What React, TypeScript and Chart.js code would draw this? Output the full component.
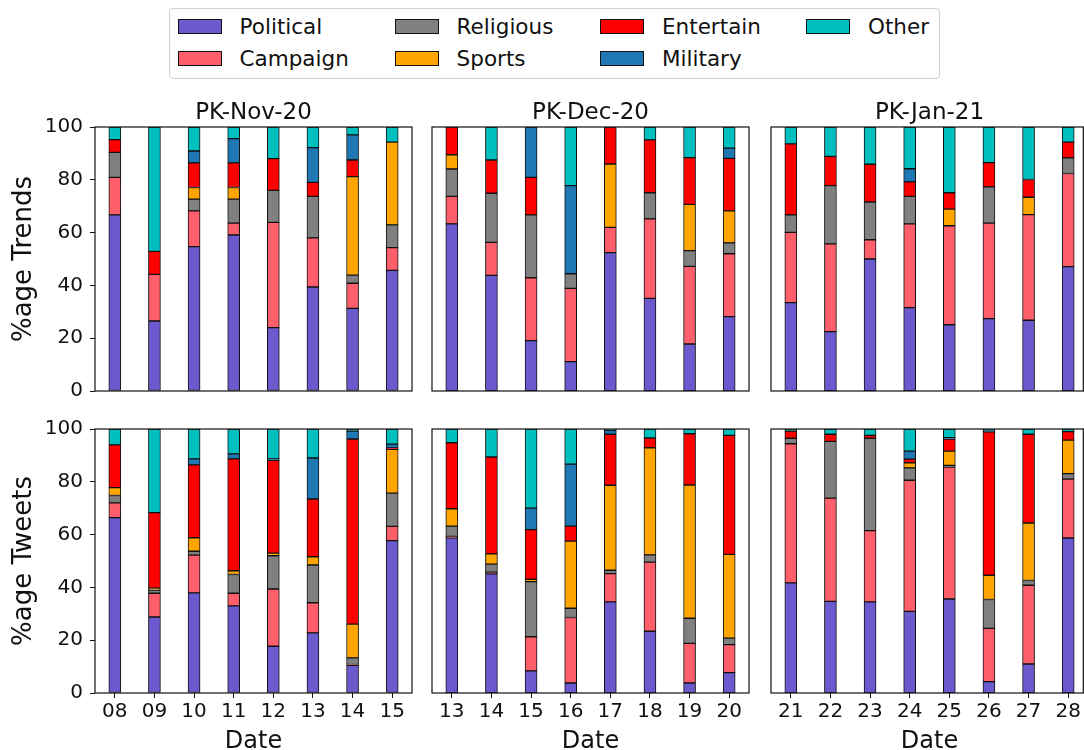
import React, { useEffect, useRef } from 'react';
import { Chart, registerables } from 'chart.js';

Chart.register(...registerables);
Chart.defaults.font.family = "'DejaVu Sans', sans-serif";

// ---------------- DATA ----------------
const categories = ['Political', 'Campaign', 'Religious', 'Sports', 'Entertain', 'Military', 'Other'];
const seriesColors = ['#6A5ACD', '#FF5E6B', '#808080', '#FFA500', '#FF0000', '#1F77B4', '#00BFBF'];

const novDates = ['08', '09', '10', '11', '12', '13', '14', '15'];
const decDates = ['13', '14', '15', '16', '17', '18', '19', '20'];
const janDates = ['21', '22', '23', '24', '25', '26', '27', '28'];

const yTicks = [0, 20, 40, 60, 80, 100];
const panelTitles = ['PK-Nov-20', 'PK-Dec-20', 'PK-Jan-21'];
const rowLabels = ['%age Trends', '%age Tweets'];
const xLabel = 'Date';

// rows follow `categories` order: Political, Campaign, Religious, Sports, Entertain, Military, Other
const novTrends = [
  [66.7, 26.5, 54.7, 59.1, 24.0, 39.4, 31.3, 45.7],
  [14.2, 17.7, 13.5, 4.5, 39.9, 18.6, 9.5, 8.6],
  [9.5, 0, 4.5, 9.1, 12.1, 15.7, 3.1, 8.6],
  [0, 0, 4.4, 4.4, 0, 0, 37.3, 31.4],
  [4.8, 8.7, 9.3, 9.3, 12.0, 5.3, 6.3, 0],
  [0, 0, 4.5, 9.2, 0, 13.2, 9.5, 0],
  [4.8, 47.1, 9.1, 4.4, 12.0, 7.8, 3.0, 5.7],
];
const decTrends = [
  [63.3, 43.8, 19.1, 11.1, 52.4, 35.1, 17.8, 28.2],
  [10.4, 12.5, 23.8, 27.8, 9.6, 30.1, 29.4, 23.8],
  [10.4, 18.6, 23.8, 5.5, 0, 9.9, 6.0, 4.1],
  [5.4, 0, 0, 0, 24.0, 0, 17.5, 12.1],
  [10.5, 12.6, 14.2, 0, 14.0, 20.0, 17.7, 19.9],
  [0, 0, 19.1, 33.4, 0, 0, 0, 3.9],
  [0, 12.5, 0, 22.2, 0, 4.9, 11.6, 8.0],
];
const janTrends = [
  [33.5, 22.5, 50.0, 31.6, 25.1, 27.4, 26.8, 47.1],
  [26.6, 33.2, 7.3, 31.7, 37.5, 36.2, 40.0, 35.3],
  [6.6, 22.1, 14.3, 10.4, 0, 13.7, 0, 5.9],
  [0, 0, 0, 0, 6.3, 0, 6.6, 0],
  [26.9, 11.1, 14.3, 5.5, 6.2, 9.2, 6.7, 6.0],
  [0, 0, 0, 5.0, 0, 0, 0, 0],
  [6.4, 11.1, 14.1, 15.8, 24.9, 13.5, 19.9, 5.7],
];
const novTweets = [
  [66.4, 28.8, 37.9, 33.0, 17.7, 22.8, 10.5, 57.7],
  [5.6, 9.0, 14.3, 4.8, 21.7, 11.4, 0.3, 5.4],
  [2.8, 1.2, 1.5, 7.1, 12.6, 14.3, 2.5, 12.6],
  [3.0, 0.7, 5.1, 1.4, 1.0, 3.1, 12.8, 16.6],
  [16.2, 28.6, 27.6, 42.4, 35.1, 21.9, 70.1, 0.5],
  [0, 0, 2.3, 1.9, 0.6, 15.5, 3.0, 1.5],
  [6.0, 31.7, 11.3, 9.4, 11.3, 11.0, 0.8, 5.7],
];
const decTweets = [
  [58.8, 45.1, 8.4, 3.8, 34.5, 23.4, 3.8, 7.7],
  [0.5, 0.7, 12.9, 24.8, 10.7, 26.2, 15.0, 10.6],
  [3.9, 3.0, 20.9, 3.5, 1.3, 2.7, 9.5, 2.5],
  [6.6, 3.9, 0.9, 25.4, 32.2, 40.6, 50.5, 31.7],
  [25.0, 36.7, 18.8, 5.7, 19.3, 3.7, 19.4, 45.1],
  [0, 0, 8.1, 23.5, 1.5, 0, 0, 0],
  [5.2, 10.6, 30.0, 13.3, 0.5, 3.4, 1.8, 2.4],
];
const janTweets = [
  [41.7, 34.7, 34.5, 30.9, 35.6, 4.3, 11.0, 58.7],
  [52.7, 39.1, 27.0, 49.7, 50.0, 20.2, 29.8, 22.3],
  [2.1, 21.5, 35.0, 4.7, 0.6, 10.9, 1.8, 2.1],
  [0, 0, 0, 1.9, 5.4, 9.2, 21.8, 12.7],
  [2.7, 2.7, 1.1, 1.4, 4.6, 54.3, 33.6, 3.2],
  [0, 0, 0, 3.0, 0.5, 0.3, 0, 0],
  [0.8, 2.0, 2.4, 8.4, 3.3, 0.8, 2.0, 1.0],
];

// ---------------- LAYOUT ----------------
const VIEW_W = 1084;
const VIEW_H = 750;
const COL_LEFT = [95, 432, 771];
const PLOT_W = 317;
const ROW_TOP = [127, 429];
const PLOT_H = 264;
const PAD = 20;
const AXIS_W = 70;
const AXIS_H = 45;

type PanelProps = { values: number[][]; dates: string[]; col: number; row: number };

function Panel({ values, dates, col, row }: PanelProps) {
  const ref = useRef<HTMLCanvasElement | null>(null);
  const showY = col === 0;
  const showX = row === 1;
  const padL = showY ? AXIS_W : PAD;
  const padB = showX ? AXIS_H : PAD;
  const cw = padL + PLOT_W + PAD;
  const ch = PAD + PLOT_H + padB;
  const cLeft = COL_LEFT[col] - padL;
  const cTop = ROW_TOP[row] - PAD;

  useEffect(() => {
    if (!ref.current) return;
    const edgeX = cLeft + padL + PLOT_W > VIEW_W ? VIEW_W - 0.7 - cLeft : null;
    const framePlugin = {
      id: 'frame' + col + row,
      afterDatasetsDraw(chart: any) {
        const { ctx, chartArea } = chart;
        const { left, top, right, bottom } = chartArea;
        ctx.save();
        ctx.strokeStyle = '#111';
        ctx.lineWidth = 1.2;
        ctx.strokeRect(left, top, right - left, bottom - top);
        if (edgeX !== null) {
          ctx.beginPath();
          ctx.moveTo(edgeX, top);
          ctx.lineTo(edgeX, bottom);
          ctx.stroke();
        }
        ctx.restore();
      },
    };
    const xScale: any = {
      stacked: true,
      display: showX,
      offset: true,
      grid: {
        display: true,
        offset: false,
        drawOnChartArea: false,
        drawTicks: true,
        tickLength: 5,
        color: '#111',
      },
      border: { display: false },
      ticks: { font: { size: 20 }, color: '#111', padding: 2, maxRotation: 0, autoSkip: false },
    };
    if (showX) {
      xScale.afterFit = (s: any) => {
        s.height = AXIS_H;
      };
    }
    const yScale: any = {
      stacked: true,
      display: showY,
      min: 0,
      max: 100,
      afterBuildTicks: (s: any) => {
        s.ticks = yTicks.map((v) => ({ value: v }));
      },
      grid: {
        display: true,
        drawOnChartArea: false,
        drawTicks: true,
        tickLength: 5,
        color: '#111',
      },
      border: { display: false },
      ticks: { font: { size: 20 }, color: '#111', padding: 7 },
    };
    if (showY) {
      yScale.afterFit = (s: any) => {
        s.width = AXIS_W;
      };
    }
    const chart = new Chart(ref.current, {
      type: 'bar',
      data: {
        labels: dates,
        datasets: categories.map((c, i) => ({
          label: c,
          data: values[i],
          backgroundColor: seriesColors[i],
          borderColor: '#111',
          borderWidth: 1,
          borderSkipped: false,
          barThickness: 12,
        })),
      },
      options: {
        animation: false,
        responsive: false,
        maintainAspectRatio: false,
        devicePixelRatio: 1,
        layout: {
          padding: { left: showY ? 0 : PAD, right: PAD, top: PAD, bottom: showX ? 0 : PAD },
        },
        plugins: {
          legend: { display: false },
          tooltip: { enabled: false },
          title: { display: false },
        },
        scales: { x: xScale, y: yScale },
      },
      plugins: [framePlugin],
    });
    return () => chart.destroy();
  }, [values, dates, col, row]);

  return (
    <canvas
      ref={ref}
      width={cw}
      height={ch}
      style={{ position: 'absolute', left: cLeft, top: cTop, width: cw, height: ch }}
    />
  );
}

const legendCols = [
  [0, 1],
  [2, 3],
  [4, 5],
  [6],
];
const LEG_PATCH_X = [177.6, 394.6, 600, 806];
const LEG_ROW_CY = [26.3, 58.5];
const LEG_FONT = 21.5;

function Legend() {
  const items: any[] = [];
  legendCols.forEach((colItems, ci) => {
    colItems.forEach((idx, ri) => {
      const cy = LEG_ROW_CY[ri];
      items.push(
        <div
          key={'p' + idx}
          style={{
            position: 'absolute',
            left: LEG_PATCH_X[ci],
            top: cy - 7.5,
            width: 44,
            height: 15,
            boxSizing: 'border-box',
            background: seriesColors[idx],
            border: '1px solid #111',
          }}
        />
      );
      items.push(
        <div
          key={'t' + idx}
          style={{
            position: 'absolute',
            left: LEG_PATCH_X[ci] + 62,
            top: cy + 8 - 0.846 * LEG_FONT,
            fontSize: LEG_FONT,
            lineHeight: 1,
            whiteSpace: 'nowrap',
            color: '#111',
          }}
        >
          {categories[idx]}
        </div>
      );
    });
  });
  return (
    <>
      <div
        style={{
          position: 'absolute',
          left: 169,
          top: 8,
          width: 771,
          height: 71,
          boxSizing: 'border-box',
          border: '1px solid #d0d0d0',
          borderRadius: 4,
          background: '#fff',
        }}
      />
      {items}
    </>
  );
}

export default function App() {
  const trends = [novTrends, decTrends, janTrends];
  const tweets = [novTweets, decTweets, janTweets];
  const dateSets = [novDates, decDates, janDates];
  const textBase: React.CSSProperties = {
    position: 'absolute',
    lineHeight: 1,
    whiteSpace: 'nowrap',
    color: '#111',
  };
  return (
    <div
      style={{
        position: 'absolute',
        left: 0,
        top: 0,
        width: VIEW_W,
        height: VIEW_H,
        overflow: 'hidden',
        background: '#fff',
        fontFamily: "'DejaVu Sans', sans-serif",
      }}
    >
      {[0, 1, 2].map((c) => (
        <Panel key={'t' + c} values={trends[c]} dates={dateSets[c]} col={c} row={0} />
      ))}
      {[0, 1, 2].map((c) => (
        <Panel key={'w' + c} values={tweets[c]} dates={dateSets[c]} col={c} row={1} />
      ))}
      {panelTitles.map((t, c) => (
        <div
          key={'title' + c}
          style={{
            ...textBase,
            fontSize: 23,
            left: COL_LEFT[c] + PLOT_W / 2,
            top: 119.3 - 0.846 * 23,
            transform: 'translateX(-50%)',
          }}
        >
          {t}
        </div>
      ))}
      {panelTitles.map((t, c) => (
        <div
          key={'date' + c}
          style={{
            ...textBase,
            fontSize: 24,
            left: COL_LEFT[c] + PLOT_W / 2,
            top: 748 - 0.846 * 24,
            transform: 'translateX(-50%)',
          }}
        >
          {xLabel}
        </div>
      ))}
      {rowLabels.map((t, r) => (
        <div
          key={'yl' + r}
          style={{
            ...textBase,
            fontSize: 26,
            left: 21.5,
            top: ROW_TOP[r] + PLOT_H / 2,
            transform: 'translate(-50%, -50%) rotate(-90deg)',
          }}
        >
          {t}
        </div>
      ))}
      <Legend />
    </div>
  );
}
